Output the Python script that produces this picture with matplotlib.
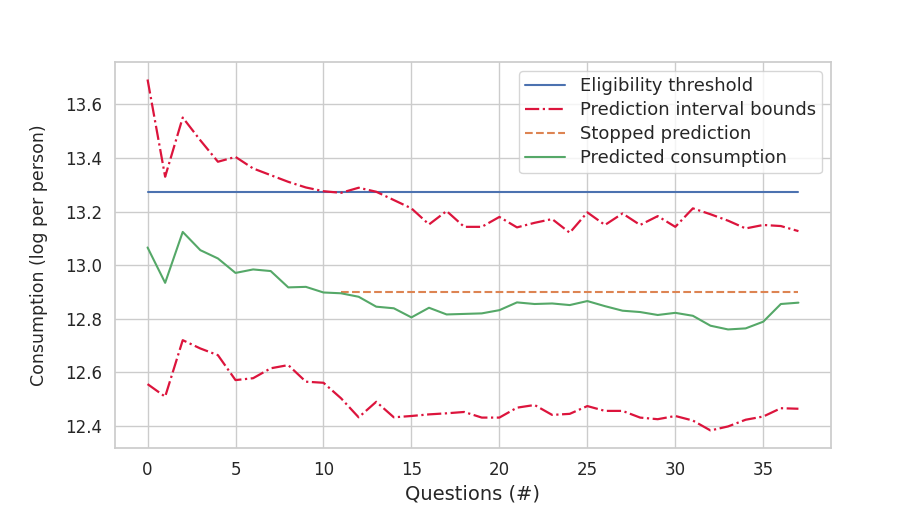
import matplotlib
matplotlib.use("Agg")
import matplotlib.pyplot as plt
import seaborn as sns
import numpy as np

# values
questions = np.arange(38)

upper_bound = [13.693, 13.330, 13.551, 13.466, 13.386, 13.404, 13.361, 13.336,
               13.311, 13.290, 13.276, 13.270, 13.289, 13.274, 13.243, 13.212,
               13.152, 13.202, 13.143, 13.143, 13.180, 13.141, 13.158, 13.172,
               13.121, 13.197, 13.150, 13.193, 13.150, 13.183, 13.143, 13.212,
               13.190, 13.166, 13.137, 13.150, 13.146, 13.127]

predicted = [13.066, 12.934, 13.124, 13.056, 13.025, 12.971, 12.984, 12.978,
             12.917, 12.919, 12.898, 12.895, 12.882, 12.845, 12.839, 12.805,
             12.841, 12.816, 12.818, 12.820, 12.832, 12.861, 12.855, 12.857,
             12.851, 12.866, 12.847, 12.830, 12.825, 12.814, 12.822, 12.811,
             12.774, 12.760, 12.764, 12.789, 12.855, 12.860]

lower_bound = [12.556, 12.509, 12.720, 12.689, 12.664, 12.571, 12.578, 12.615,
               12.627, 12.565, 12.561, 12.503, 12.432, 12.490, 12.432, 12.437,
               12.443, 12.447, 12.452, 12.431, 12.431, 12.468, 12.478, 12.441,
               12.445, 12.474, 12.456, 12.456, 12.431, 12.425, 12.437, 12.420,
               12.383, 12.398, 12.423, 12.435, 12.466, 12.464]

threshold = 13.274
stop_question = 11
stopped_value = 12.898

sns.set_theme(style="whitegrid")
plt.rcParams['font.family'] = ['DejaVu Sans']

fig = plt.figure(figsize=(9.23, 5.12), dpi=100)
ax = fig.add_axes([0.1246, 0.125, 0.7757, 0.754])

ax.plot(questions, [threshold] * len(questions), color='#4c72b0',
        linewidth=1.5, label='Eligibility threshold')
ax.plot(questions, upper_bound, color='crimson', linestyle='-.',
        linewidth=1.6, label='Prediction interval bounds')
ax.plot(questions, lower_bound, color='crimson', linestyle='-.', linewidth=1.6)
stopped_x = questions[stop_question:]
ax.plot(stopped_x, [stopped_value] * len(stopped_x), color='#dd8452',
        linestyle='--', linewidth=1.5, label='Stopped prediction')
ax.plot(questions, predicted, color='#55a868', linewidth=1.5,
        label='Predicted consumption')

ax.set_xlabel('Questions (#)', fontsize=14)
ax.set_ylabel('Consumption (log per person)', fontsize=12.5, labelpad=12)
ax.set_xticks([0, 5, 10, 15, 20, 25, 30, 35])
ax.tick_params(labelsize=12)
ax.legend(loc='upper right', fontsize=13, labelspacing=0.33,
          handlelength=2.2, borderpad=0.35)

fig.savefig('out.png', dpi=100)
